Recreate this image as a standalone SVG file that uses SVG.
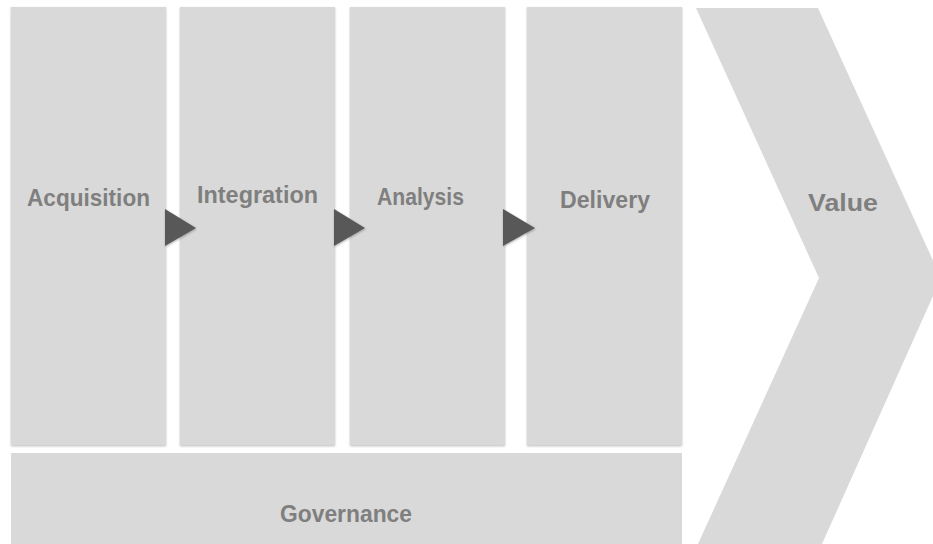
<svg xmlns="http://www.w3.org/2000/svg" width="933" height="544" viewBox="0 0 933 544">
  <defs>
    <filter id="soft" x="-5%" y="-5%" width="110%" height="110%">
      <feDropShadow dx="0" dy="1.2" stdDeviation="0.8" flood-color="#000" flood-opacity="0.25"/>
    </filter>
    <filter id="arrowShade" x="-20%" y="-20%" width="140%" height="140%">
      <feDropShadow dx="0.5" dy="1" stdDeviation="0.8" flood-color="#000" flood-opacity="0.3"/>
    </filter>
  </defs>
  <style>
    .box { fill: #d9d9d9; }
    .lbl { font-family: "Liberation Sans", Arial, sans-serif; font-weight: bold; font-size: 24px; fill: #7f7f7f; text-anchor: middle; }
    .arrow { fill: #595959; }
  </style>

  <!-- value chevron -->
  <g id="value">
    <polygon class="box" points="696,8 818,8 941,278 822,544 698,544 819,278"/>
    <text class="lbl" x="843" y="211" font-size="27" textLength="70" lengthAdjust="spacingAndGlyphs">Value</text>
  </g>

  <!-- process stages -->
  <g id="acquisition">
    <rect class="box" x="11" y="7" width="155" height="438" filter="url(#soft)"/>
    <text class="lbl" x="88.5" y="206" textLength="123" lengthAdjust="spacingAndGlyphs">Acquisition</text>
  </g>
  <g id="integration">
    <rect class="box" x="180" y="7" width="155" height="438" filter="url(#soft)"/>
    <text class="lbl" x="257.5" y="203" textLength="121" lengthAdjust="spacingAndGlyphs">Integration</text>
  </g>
  <g id="analysis">
    <rect class="box" x="350" y="7" width="155" height="438" filter="url(#soft)"/>
    <text class="lbl" x="420.5" y="205" textLength="87" lengthAdjust="spacingAndGlyphs">Analysis</text>
  </g>
  <g id="delivery">
    <rect class="box" x="527" y="7" width="155" height="438" filter="url(#soft)"/>
    <text class="lbl" x="605" y="208" textLength="90" lengthAdjust="spacingAndGlyphs">Delivery</text>
  </g>

  <!-- governance band -->
  <g id="governance">
    <rect class="box" x="11" y="453" width="671" height="95"/>
    <text class="lbl" x="346" y="522" textLength="132" lengthAdjust="spacingAndGlyphs">Governance</text>
  </g>

  <!-- flow arrows between stages -->
  <g id="connectors" filter="url(#arrowShade)">
    <polygon class="arrow" points="165,209 165,246 196,228"/>
    <polygon class="arrow" points="334,209 334,246 365,228"/>
    <polygon class="arrow" points="503,209 503,246 535,228"/>
  </g>
</svg>
